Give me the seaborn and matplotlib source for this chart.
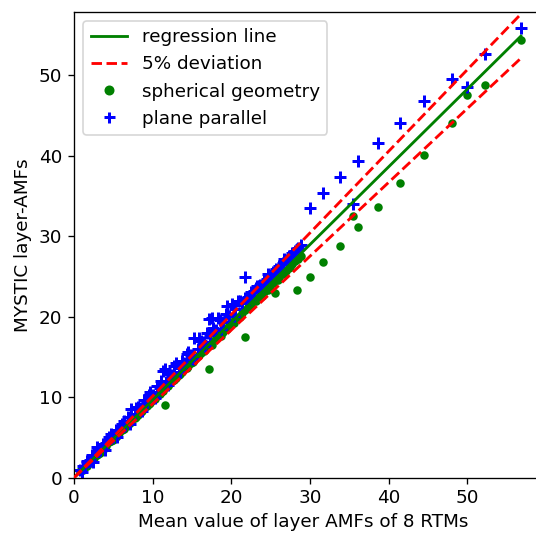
import numpy as np
import pandas as pd
import matplotlib
matplotlib.use("Agg")
import matplotlib.pyplot as plt
import seaborn as sns
from matplotlib.lines import Line2D

# Mean value of layer AMFs of 8 RTMs (shared x for both geometries)
mean_amf = [0.8, 1.1, 1.4, 1.7, 2.0, 2.3, 2.6, 2.9, 3.3, 3.7, 4.1, 4.5, 4.9, 5.3, 5.7,
            6.1, 6.5, 6.9, 7.3, 7.7, 8.1, 8.5, 8.9, 9.3, 9.7, 10.1, 10.5, 10.9, 11.3,
            11.6, 11.7, 12.1, 12.5, 12.9, 13.3, 13.7, 14.1, 14.5, 14.9, 15.3, 15.7,
            16.1, 16.5, 16.9, 17.1, 17.3, 17.7, 18.1, 18.3, 18.5, 18.9, 19.3, 19.7,
            20.1, 20.5, 20.9, 21.3, 21.7, 21.7, 22.1, 22.5, 22.9, 23.3, 23.7, 24.1,
            24.5, 24.9, 25.3, 25.5, 25.7, 26.1, 26.5, 26.9, 27.3, 27.7, 28.1, 28.3,
            28.5, 28.9, 30.0, 31.7, 33.8, 35.5, 36.1, 38.6, 41.4, 44.5, 48.0, 49.9,
            52.2, 56.8,
            1.0, 1.6, 2.4, 3.1, 3.9, 4.7, 5.5, 6.3, 7.1, 7.9, 8.7, 9.5, 10.3, 11.1,
            11.9, 12.7, 13.5, 14.3, 15.1, 15.9, 16.7, 17.5, 18.7, 19.5, 20.3, 21.1,
            22.3, 23.1, 23.9, 24.7, 25.9, 26.7, 27.5]

# MYSTIC layer-AMFs, spherical geometry
mystic_spherical = [0.8, 1.0, 1.3, 1.6, 1.9, 2.2, 2.5, 2.8, 3.1, 3.6, 3.9, 4.4, 4.7, 5.1, 5.5,
                    5.9, 6.3, 6.6, 7.0, 7.4, 7.8, 8.2, 8.6, 8.9, 9.3, 9.7, 10.1, 10.4, 10.8,
                    9.0, 11.3, 11.6, 12.0, 12.4, 12.8, 13.1, 13.6, 13.9, 14.3, 14.6, 15.1,
                    15.5, 15.8, 16.2, 13.5, 16.6, 17.0, 17.4, 17.6, 17.8, 18.1, 18.6, 18.9,
                    19.3, 19.7, 20.0, 20.5, 20.8, 17.5, 21.2, 21.6, 22.0, 22.3, 22.7, 23.1,
                    23.5, 23.8, 24.2, 22.9, 24.6, 24.9, 25.3, 25.7, 26.1, 26.5, 26.9, 23.3,
                    27.2, 27.5, 24.9, 26.8, 28.8, 32.5, 31.1, 33.6, 36.6, 40.1, 44.1, 47.5,
                    48.8, 54.4,
                    0.9, 1.5, 2.3, 2.9, 3.7, 4.5, 5.2, 6.0, 6.8, 7.5, 8.3, 9.1, 9.8, 10.6,
                    11.4, 12.1, 12.9, 13.6, 14.4, 15.2, 15.9, 16.5, 17.6, 18.5, 19.2, 20.0,
                    21.2, 22.0, 22.6, 23.3, 24.6, 25.4, 26.2]

# MYSTIC layer-AMFs, plane parallel
mystic_plane = [1.0, 1.4, 1.5, 2.1, 2.2, 2.8, 2.7, 3.8, 3.5, 4.2, 4.3, 5.0, 5.1, 5.9, 5.8,
                6.7, 6.6, 7.6, 8.5, 7.9, 8.8, 8.6, 9.6, 9.4, 10.6, 10.3, 11.4, 11.1, 13.3,
                13.5, 11.9, 12.9, 12.7, 14.2, 13.6, 14.5, 14.3, 15.6, 15.2, 17.3, 16.0,
                17.0, 16.8, 18.0, 19.7, 17.7, 18.6, 18.4, 19.9, 19.6, 19.3, 20.4, 20.1,
                21.6, 20.9, 21.9, 21.7, 22.3, 24.9, 22.5, 23.1, 23.2, 23.8, 24.0, 24.5,
                24.7, 25.2, 25.5, 25.6, 25.9, 26.3, 26.7, 27.1, 27.5, 27.9, 28.2, 28.4,
                28.6, 28.9, 33.5, 35.4, 37.3, 34.0, 39.4, 41.6, 44.1, 46.8, 49.5, 48.5,
                52.6, 55.9,
                0.7, 2.0, 2.0, 3.6, 3.5, 5.4, 5.0, 7.0, 6.7, 8.7, 8.3, 10.3, 9.9, 12.0,
                11.5, 13.9, 13.1, 15.4, 14.8, 17.4, 16.4, 19.8, 18.5, 21.3, 20.1, 21.9,
                22.2, 23.6, 23.8, 25.3, 25.8, 27.2, 27.5]

# Regression line and deviation band
reg_slope = 0.966
reg_intercept = 0.0
deviation = 0.05

df = pd.DataFrame({"x": mean_amf, "sph": mystic_spherical, "pp": mystic_plane})

line_x = np.array([0.0, max(mean_amf)])
reg_y = reg_slope * line_x + reg_intercept
lines = pd.DataFrame({"x": line_x, "reg": reg_y,
                      "up": reg_y * (1 + deviation), "lo": reg_y * (1 - deviation)})

plt.rcParams["font.family"] = ["DejaVu Sans"]
plt.rcParams["font.size"] = 11

fig = plt.figure(figsize=(536 / 120, 534 / 120), dpi=120)
ax = fig.add_axes([74 / 536, 56.3 / 534, 480.0 / 536, 466.0 / 534])

sns.scatterplot(data=df, x="x", y="sph", ax=ax, color="green", marker="o",
                s=26, linewidth=0, zorder=1)
sns.scatterplot(data=df, x="x", y="pp", ax=ax, color="blue", marker="+",
                s=44, linewidth=1.8, zorder=1)
sns.lineplot(data=lines, x="x", y="reg", ax=ax, color="green", linewidth=1.7, zorder=3)
sns.lineplot(data=lines, x="x", y="up", ax=ax, color="red", linewidth=1.7,
             linestyle="--", zorder=3)
sns.lineplot(data=lines, x="x", y="lo", ax=ax, color="red", linewidth=1.7,
             linestyle="--", zorder=3)

ax.set_xlim(0, 61.0)
ax.set_ylim(0, 57.9)
ax.set_xticks([0, 10, 20, 30, 40, 50])
ax.set_yticks([0, 10, 20, 30, 40, 50])
ax.set_xlabel("Mean value of layer AMFs of 8 RTMs")
ax.set_ylabel("MYSTIC layer-AMFs")
ax.xaxis.set_label_coords((303 - 74) / 480.0, -0.075)

handles = [
    Line2D([], [], color="green", linewidth=1.7),
    Line2D([], [], color="red", linewidth=1.7, linestyle="--"),
    Line2D([], [], color="green", marker="o", linestyle="none", markersize=5.0),
    Line2D([], [], color="blue", marker="+", linestyle="none", markersize=6.6,
           markeredgewidth=1.8),
]
labels = ["regression line", "5% deviation", "spherical geometry", "plane parallel"]
ax.legend(handles, labels, loc="upper left")

fig.savefig("out.png", dpi=120)
